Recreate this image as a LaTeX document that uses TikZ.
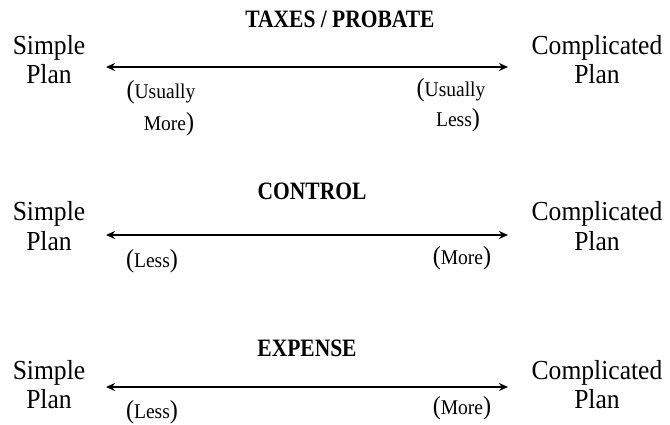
\documentclass[tikz,border=0pt]{standalone}
\usepackage{fontspec}
\setmainfont{Liberation Serif}[FakeStretch=0.93]
\newfontfamily\headfont{Liberation Serif}[FakeStretch=0.86]
\usetikzlibrary{arrows.meta}
\newcommand\bigparen[1]{{\fontsize{26}{26}\selectfont #1}}
\tikzset{
  lbl/.style={inner sep=0pt, anchor=base, font=\fontsize{27.5}{30}\selectfont},
  heading/.style={inner sep=0pt, anchor=base, font=\headfont\fontsize{25}{28}\selectfont\bfseries},
  note/.style={inner sep=0pt, anchor=base, font=\fontsize{21}{24}\selectfont},
  spanarrow/.style={line width=2.4pt, {Stealth[length=9pt,width=8pt]}-{Stealth[length=9pt,width=8pt]}}
}
\begin{document}
\begin{tikzpicture}[x=1pt,y=-1pt]
\useasboundingbox (0,0) rectangle (670,425);

% --- taxes / probate ---
\node[heading] (h1) at (340,28) {TAXES / PROBATE};
\node[lbl] (s1) at (49,55) {Simple};
\node[lbl] (p1) at (49,84) {Plan};
\node[lbl] (c1) at (597,55) {Complicated};
\node[lbl] (q1) at (597,84) {Plan};
\coordinate (a1l) at (106,67);
\coordinate (a1r) at (508,67);
\draw[spanarrow] (a1l) -- (a1r);
\node[note] (n1a) at (161,99) {\bigparen{(}Usually};
\node[note] (n1b) at (169,131) {More\bigparen{)}};
\node[note] (n1c) at (451,97) {\bigparen{(}Usually};
\node[note] (n1d) at (458,127) {Less\bigparen{)}};

% --- control ---
\node[heading] (h2) at (312,200) {CONTROL};
\node[lbl] (s2) at (49,221) {Simple};
\node[lbl] (p2) at (49,251) {Plan};
\node[lbl] (c2) at (597,221) {Complicated};
\node[lbl] (q2) at (597,251) {Plan};
\coordinate (a2l) at (106,235);
\coordinate (a2r) at (508,235);
\draw[spanarrow] (a2l) -- (a2r);
\node[note] (n2a) at (152,267) {\bigparen{(}Less\bigparen{)}};
\node[note] (n2b) at (462,264) {\bigparen{(}More\bigparen{)}};

% --- expense ---
\node[heading] (h3) at (307,356) {EXPENSE};
\node[lbl] (s3) at (49,379) {Simple};
\node[lbl] (p3) at (49,408) {Plan};
\node[lbl] (c3) at (597,379) {Complicated};
\node[lbl] (q3) at (597,408) {Plan};
\coordinate (a3l) at (106,387);
\coordinate (a3r) at (508,387);
\draw[spanarrow] (a3l) -- (a3r);
\node[note] (n3a) at (152,418) {\bigparen{(}Less\bigparen{)}};
\node[note] (n3b) at (462,414) {\bigparen{(}More\bigparen{)}};
\end{tikzpicture}
\end{document}
